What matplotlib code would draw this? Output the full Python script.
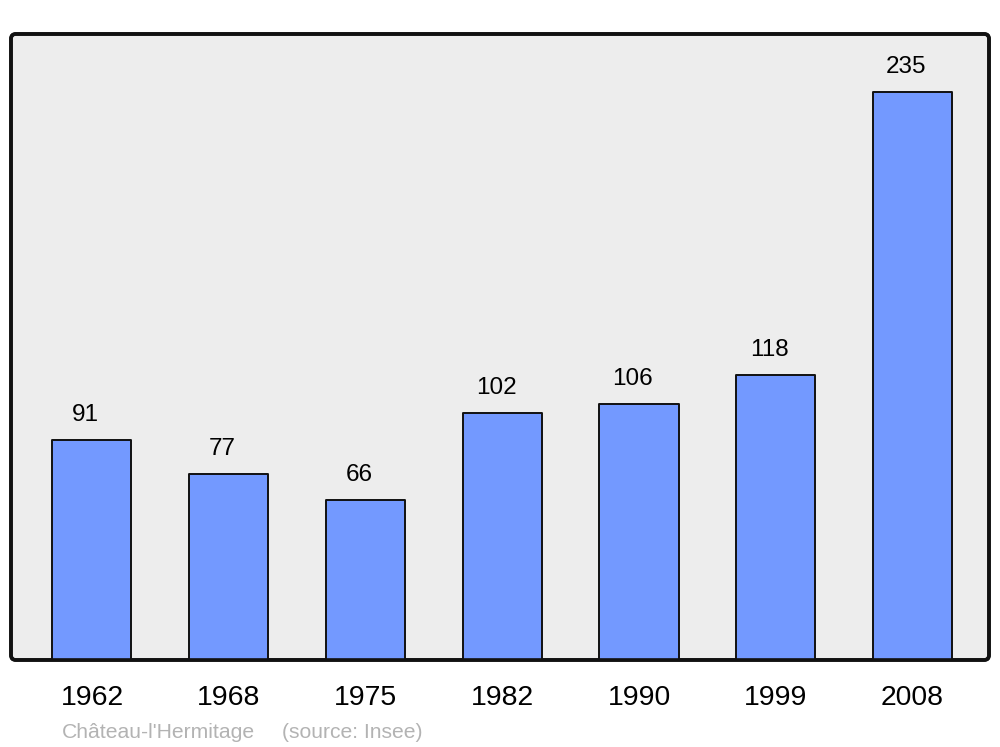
import matplotlib.pyplot as plt
from matplotlib.patches import FancyBboxPatch

years = ["1962", "1968", "1975", "1982", "1990", "1999", "2008"]
population = [91, 77, 66, 102, 106, 118, 235]
place = "Château-l'Hermitage"
source = "(source: Insee)"

plt.rcParams['font.family'] = ['Liberation Sans', 'DejaVu Sans']

fig = plt.figure(figsize=(10, 7.47), dpi=100)
ax = fig.add_axes([0.011, 0.1165, 0.978, 0.838])
ax.set_facecolor('none')
for s in ax.spines.values():
    s.set_visible(False)

# rounded grey panel behind the bars, frame redrawn on top
panel = FancyBboxPatch((0, 0), 1, 1, boxstyle="round,pad=0,rounding_size=0.005",
                       mutation_aspect=978 / 626, transform=ax.transAxes,
                       facecolor='#ededed', edgecolor='#111111', linewidth=2.6,
                       zorder=0, clip_on=False)
ax.add_patch(panel)
frame = FancyBboxPatch((0, 0), 1, 1, boxstyle="round,pad=0,rounding_size=0.005",
                       mutation_aspect=978 / 626, transform=ax.transAxes,
                       facecolor='none', edgecolor='#111111', linewidth=2.6,
                       zorder=5, clip_on=False)
ax.add_patch(frame)

x = range(len(years))
ax.bar(x, population, width=0.578, color='#7399ff', edgecolor='#111111',
       linewidth=1.4, joinstyle='round', zorder=2)

for i, v in zip(x, population):
    ax.annotate(str(v), (i, v), xytext=(-4.5, 13.7), textcoords='offset points',
                ha='center', va='baseline', fontsize=17.5, color='black')

ax.set_xlim(-0.592, 6.559)
ax.set_ylim(0, 259)
ax.set_yticks([])
ax.set_xticks(list(x))
ax.set_xticklabels(years, fontsize=20.4)
ax.tick_params(axis='x', length=0, pad=18)

fig.text(0.062, 1 - 738 / 747, place, fontsize=15.2, color='#b3b3b3', va='baseline')
fig.text(0.282, 1 - 738 / 747, source, fontsize=15.2, color='#b3b3b3', va='baseline')

fig.savefig('out.png', dpi=100)
